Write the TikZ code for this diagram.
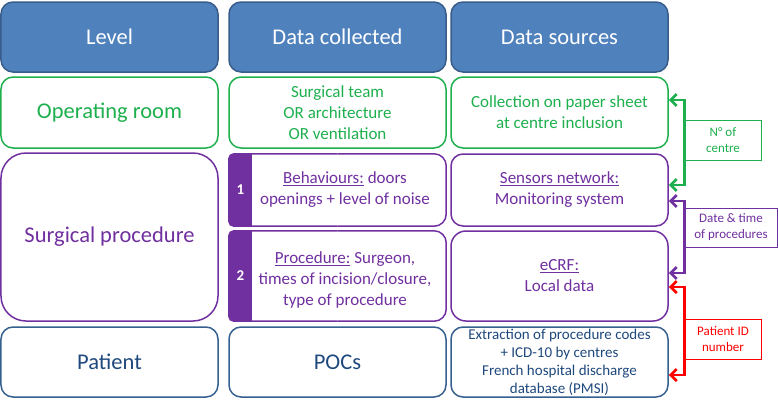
\documentclass[tikz,border=0pt]{standalone}
\usepackage{fontspec}
\setmainfont{Carlito}
\usetikzlibrary{arrows.meta,calc}
\definecolor{hdrfill}{HTML}{4F81BD}
\definecolor{hdrline}{HTML}{385D8A}
\definecolor{ogreen}{HTML}{1EB04E}
\definecolor{opurple}{HTML}{7030A0}
\definecolor{oblue}{HTML}{1F497D}
\definecolor{obline}{HTML}{35608F}
\definecolor{ored}{HTML}{FF0000}
\begin{document}
\begin{tikzpicture}[x=1bp,y=-1bp,
 box/.style={draw, rounded corners=12bp, line width=1.5bp, minimum width=217bp, align=center, inner sep=0pt, fill=white},
 hdr/.style={box, fill=hdrfill, draw=hdrline, text=white, minimum height=70bp, font=\fontsize{22.5bp}{27bp}\selectfont},
 big/.style={font=\fontsize{22.5bp}{27bp}\selectfont},
 mid/.style={font=\fontsize{17bp}{21bp}\selectfont},
 small/.style={font=\fontsize{15bp}{18bp}\selectfont},
 tag/.style={draw, line width=0.8bp, minimum width=76bp, minimum height=40bp, inner sep=0pt, align=center, font=\fontsize{13bp}{16bp}\selectfont, fill=white},
 link/.style={line width=2.8bp, {Straight Barb[length=6bp,width=12bp]}-{Straight Barb[length=6bp,width=12bp]}},
 slot/.style={minimum width=217bp, inner sep=0pt},
 num/.style={text=white, font=\bfseries\fontsize{15bp}{18bp}\selectfont, inner sep=0pt},
 bord/.style={draw=opurple, line width=1.5bp},
]
\useasboundingbox (0,0) rectangle (778,400);
% headers
\node[hdr] (h1) at (109.5,37) {Level};
\node[hdr] (h2) at (337.5,37) {Data collected};
\node[hdr] (h3) at (559.5,37) {Data sources};
% operating room
\node[box, draw=ogreen, text=ogreen, big, minimum height=71bp] (or1) at (109.5,112.5) {Operating room};
\node[box, draw=ogreen, text=ogreen, mid, minimum height=71bp] (or2) at (337.5,112.5) {Surgical team\\OR architecture\\OR ventilation};
\node[box, draw=ogreen, text=ogreen, mid, minimum height=71bp] (or3) at (559.5,112.5) {Collection on paper sheet\\at centre inclusion};
% surgical procedure
\node[box, rounded corners=25bp, draw=opurple, text=opurple, big, minimum height=168bp] (sp1) at (109.5,237) {Surgical procedure};
% numbered boxes
\node[slot, minimum height=72bp] (b1) at (337.5,190) {};
\node[slot, minimum height=90bp] (b2) at (337.5,276) {};
\foreach \b in {b1,b2}{
  \begin{scope}
    \clip[rounded corners=5bp] (\b.north west) rectangle (\b.south);
    \fill[opurple] (\b.north west) rectangle ([xshift=23bp]\b.south west);
  \end{scope}
  \draw[bord, rounded corners=12bp] (\b.north) -- (\b.north east) -- (\b.south east) -- (\b.south);
  \draw[bord, rounded corners=5bp] (\b.south) -- (\b.south west) -- (\b.north west) -- (\b.north);
}
\node[text=opurple, mid, align=center, inner sep=0pt] (b1t) at (345,190) {\underline{Behaviours:} doors\\openings + level of noise};
\node[num] (n1) at ($(b1.west)+(11.5,0)$) {1};
\node[text=opurple, mid, align=center, inner sep=0pt] (b2t) at (345,280) {\underline{Procedure:} Surgeon,\\times of incision/closure,\\type of procedure};
\node[num] (n2) at ($(b2.west)+(11.5,0)$) {2};
\node[box, draw=opurple, text=opurple, mid, minimum height=72bp] (s3) at (559.5,190) {\underline{Sensors network:}\\Monitoring system};
\node[box, rounded corners=15bp, draw=opurple, text=opurple, mid, minimum height=90bp] (e3) at (559.5,276) {\underline{eCRF:}\\Local data};
% patient
\node[box, draw=obline, text=oblue, big, minimum height=70bp] (p1) at (109.5,362) {Patient};
\node[box, draw=obline, text=oblue, big, minimum height=70bp] (p2) at (337.5,362) {POCs};
\node[box, draw=obline, text=oblue, small, minimum height=70bp] (p3) at (559.5,362) {Extraction of procedure codes\\+ ICD-10 by centres\\French hospital discharge\\database (PMSI)};
% tags
\node[tag, draw=ogreen, text=ogreen] (t1) at (723,140) {N° of\\centre};
\node[tag, draw=opurple, text=opurple, minimum width=92bp, minimum height=39bp] (t2) at (731,227.5) {Date \& time\\of procedures};
\node[tag, draw=ored, text=ored] (t3) at (723,339) {Patient ID\\number};
% links
\draw[link, ogreen] ([yshift=12.5bp]or3.east) -- ++(16,0) |- ([yshift=5bp]s3.east);
\draw[link, opurple] ([yshift=-11bp]s3.east) -- ++(16,0) |- ([yshift=3bp]e3.east);
\draw[link, ored] ([yshift=-11bp]e3.east) -- ++(16,0) |- ([yshift=-13bp]p3.east);
\end{tikzpicture}
\end{document}
